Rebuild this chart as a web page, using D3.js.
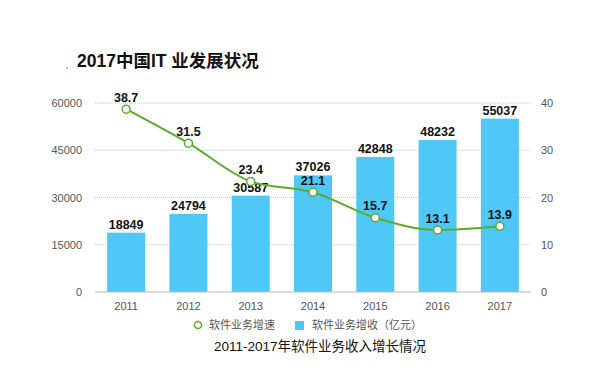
<!DOCTYPE html>
<html>
<head>
<meta charset="utf-8">
<script src="https://cdn.jsdelivr.net/npm/d3@7"></script>
<style>
  body { margin: 0; background: #fff; }
  text { font-family: "Helvetica Neue", Arial, "Noto Sans CJK SC", sans-serif; }
</style>
</head>
<body>
<div id="chart"></div>
<script>
// data
const years = ["2011", "2012", "2013", "2014", "2015", "2016", "2017"];
const revenue = [18849, 24794, 30587, 37026, 42848, 48232, 55037];
const growth = [38.7, 31.5, 23.4, 21.1, 15.7, 13.1, 13.9];
const leftTicks = [0, 15000, 30000, 45000, 60000];
const rightTicks = [0, 10, 20, 30, 40];

const W = 595, H = 371;
const margin = {top: 103, right: 64, bottom: 79, left: 95};
const width = W - margin.left - margin.right,
      height = H - margin.top - margin.bottom;

const barColor = "#4fc8f7", lineColor = "#5aac2e";

const svg = d3.select("#chart").append("svg")
  .attr("width", W).attr("height", H);

// title
svg.append("text").attr("x", 77).attr("y", 67)
  .attr("font-size", 17.5).attr("font-weight", "bold").attr("fill", "#111")
  .text("2017中国IT 业发展状况");
svg.append("circle").attr("cx", 67).attr("cy", 68).attr("r", 0.8).attr("fill", "#666");

const g = svg.append("g").attr("transform", `translate(${margin.left},${margin.top})`);

const x = d3.scaleBand().domain(years).range([0, width]).paddingInner(0.39).paddingOuter(0.195);
const yL = d3.scaleLinear().domain([0, 60000]).range([height, 0]);
const yR = d3.scaleLinear().domain([0, 40]).range([height, 0]);

// grid
g.selectAll(".grid").data(leftTicks.filter(d => d > 0)).enter().append("line")
  .attr("x1", 0).attr("x2", width)
  .attr("y1", d => yL(d)).attr("y2", d => yL(d))
  .attr("stroke", "#c8c8c8").attr("stroke-width", 1).attr("stroke-dasharray", "1,1");

// bars
g.selectAll(".bar").data(revenue).enter().append("rect")
  .attr("x", (d, i) => x(years[i])).attr("width", x.bandwidth())
  .attr("y", d => yL(d)).attr("height", d => height - yL(d))
  .attr("fill", barColor);

// baseline
g.append("line").attr("x1", 0).attr("x2", width).attr("y1", height).attr("y2", height)
  .attr("stroke", "#bbb").attr("stroke-width", 1);

// axes
const axL = g.append("g").call(d3.axisLeft(yL).tickValues(leftTicks).tickFormat(d3.format("d")).tickSize(0).tickPadding(13));
const axR = g.append("g").attr("transform", `translate(${width},0)`)
  .call(d3.axisRight(yR).tickValues(rightTicks).tickSize(0).tickPadding(10));
const axB = g.append("g").attr("transform", `translate(0,${height})`)
  .call(d3.axisBottom(x).tickSize(0).tickPadding(10));
[axL, axR, axB].forEach(a => {
  a.select(".domain").remove();
  a.selectAll("text").attr("font-size", 11).attr("fill", "#555")
    .style("font-family", "'Helvetica Neue', Arial, sans-serif");
});

// bar labels
g.selectAll(".blab").data(revenue).enter().append("text")
  .attr("x", (d, i) => x(years[i]) + x.bandwidth() / 2)
  .attr("y", d => yL(d) - 4)
  .attr("text-anchor", "middle").attr("font-size", 12.5).attr("font-weight", "bold").attr("fill", "#111")
  .text(d => d);

// line
const cx = i => x(years[i]) + x.bandwidth() / 2;
const line = d3.line().x((d, i) => cx(i)).y(d => yR(d)).curve(d3.curveMonotoneX);
g.append("path").datum(growth).attr("d", line)
  .attr("fill", "none").attr("stroke", lineColor).attr("stroke-width", 2);
g.selectAll(".pt").data(growth).enter().append("circle")
  .attr("cx", (d, i) => cx(i)).attr("cy", d => yR(d)).attr("r", 4)
  .attr("fill", "#fff").attr("stroke", lineColor).attr("stroke-width", 1.5);
g.selectAll(".llab").data(growth).enter().append("text")
  .attr("x", (d, i) => cx(i)).attr("y", d => yR(d) - 7.5)
  .attr("text-anchor", "middle").attr("font-size", 12.5).attr("font-weight", "bold").attr("fill", "#111")
  .text(d => d.toFixed(1));

// legend
const leg = svg.append("g");
leg.append("circle").attr("cx", 198).attr("cy", 325).attr("r", 3.5)
  .attr("fill", "#fff").attr("stroke", lineColor).attr("stroke-width", 1.5);
leg.append("text").attr("x", 209).attr("y", 329).attr("font-size", 11).attr("fill", "#555").text("软件业务增速");
leg.append("rect").attr("x", 295).attr("y", 321).attr("width", 9).attr("height", 9).attr("fill", barColor);
leg.append("text").attr("x", 312).attr("y", 329).attr("font-size", 11).attr("fill", "#555").text("软件业务增收（亿元）");

svg.append("text").attr("x", 320).attr("y", 351).attr("text-anchor", "middle")
  .attr("font-size", 13.5).attr("fill", "#111").text("2011-2017年软件业务收入增长情况");
</script>
</body>
</html>
